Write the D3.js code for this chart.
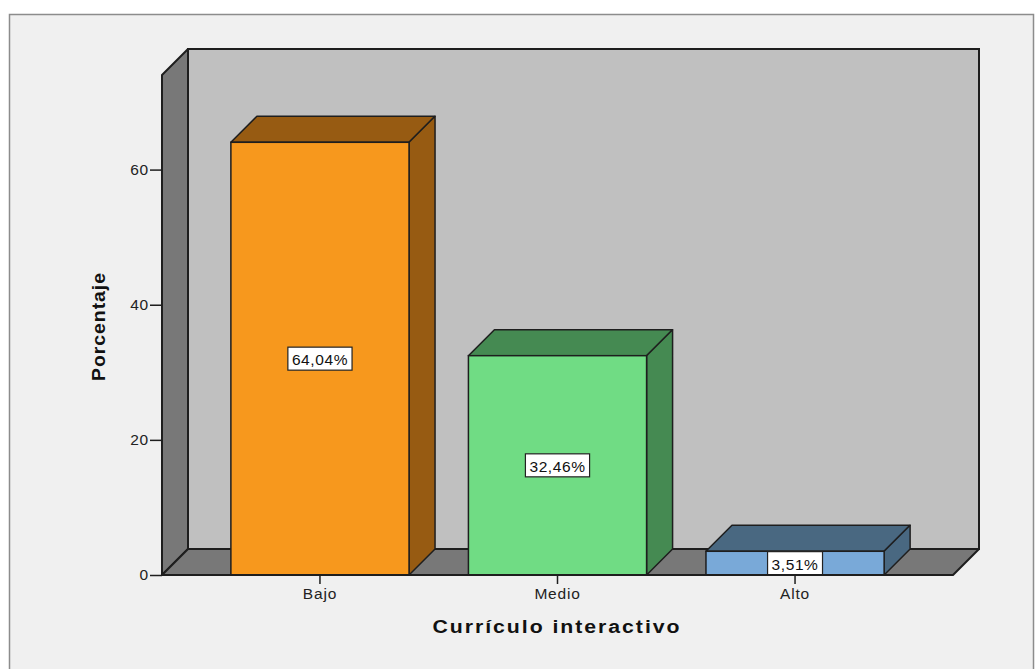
<!DOCTYPE html>
<html>
<head>
<meta charset="utf-8">
<script src="https://cdn.jsdelivr.net/npm/d3@7"></script>
<style>
  html, body { margin: 0; padding: 0; background: #ffffff; }
  svg { display: block; font-family: "Liberation Sans", Arial, sans-serif; }
</style>
</head>
<body>
<svg id="chart" width="1035" height="669"></svg>
<script>
// Frequency of "Currículo interactivo" levels (percent)
const categories = ["Bajo", "Medio", "Alto"];
const percentages = [64.04, 32.46, 3.51];
const valueLabels = ["64,04%", "32,46%", "3,51%"];
const yTicks = [0, 20, 40, 60];
const frontColors = ["#f7981d", "#70dc84", "#79a9d8"];
const sideColors = ["#975b12", "#458a52", "#496881"];

const svg = d3.select("#chart");
const fontFamily = "'Liberation Sans', Arial, sans-serif";

// Panel background and frame
svg.append("rect")
  .attr("x", 9.5).attr("y", 14.5)
  .attr("width", 1024).attr("height", 680)
  .attr("fill", "#f0f0f0")
  .attr("stroke", "#8c8c8c").attr("stroke-width", 1.5);

// Plot geometry (front plane + depth offset for the 3D box)
const x0 = 162, x1 = 953, yBase = 575, yTop = 75;
const depth = 26;

const x = d3.scaleBand()
  .domain(categories)
  .range([x0, x1])
  .paddingInner(0.25)
  .paddingOuter(0.29);

const y = d3.scaleLinear()
  .domain([0, 74])
  .range([yBase, yTop]);

const stroke = "#1e1e1e";
const line = d3.line();

// Back wall
svg.append("path")
  .attr("d", line([[x0 + depth, yTop - depth], [x1 + depth, yTop - depth],
                   [x1 + depth, yBase - depth], [x0 + depth, yBase - depth]]) + "Z")
  .attr("fill", "#c0c0c0").attr("stroke", stroke).attr("stroke-width", 2);

// Left wall
svg.append("path")
  .attr("d", line([[x0, yTop], [x0 + depth, yTop - depth],
                   [x0 + depth, yBase - depth], [x0, yBase]]) + "Z")
  .attr("fill", "#787878").attr("stroke", stroke).attr("stroke-width", 2)
  .attr("stroke-linejoin", "round");

// Floor
svg.append("path")
  .attr("d", line([[x0, yBase], [x0 + depth, yBase - depth],
                   [x1 + depth, yBase - depth], [x1, yBase]]) + "Z")
  .attr("fill", "#787878").attr("stroke", stroke).attr("stroke-width", 2)
  .attr("stroke-linejoin", "round");

// Bars as 3D boxes
const bars = svg.append("g").selectAll("g.bar")
  .data(categories.map((c, i) => ({ c, v: percentages[i], label: valueLabels[i], i })))
  .join("g").attr("class", "bar");

bars.each(function(d) {
  const g = d3.select(this);
  const bx0 = x(d.c), bx1 = x(d.c) + x.bandwidth();
  const by = y(d.v);
  // top face
  g.append("path")
    .attr("d", line([[bx0, by], [bx0 + depth, by - depth], [bx1 + depth, by - depth], [bx1, by]]) + "Z")
    .attr("fill", sideColors[d.i]).attr("stroke", stroke).attr("stroke-width", 1.5)
    .attr("stroke-linejoin", "round");
  // right side face
  g.append("path")
    .attr("d", line([[bx1, by], [bx1 + depth, by - depth], [bx1 + depth, yBase - depth], [bx1, yBase]]) + "Z")
    .attr("fill", sideColors[d.i]).attr("stroke", stroke).attr("stroke-width", 1.5)
    .attr("stroke-linejoin", "round");
  // front face
  g.append("rect")
    .attr("x", bx0).attr("y", by)
    .attr("width", bx1 - bx0).attr("height", yBase - by)
    .attr("fill", frontColors[d.i]).attr("stroke", stroke).attr("stroke-width", 1.5);
});

// Base line along the front edge of the floor
svg.append("line")
  .attr("x1", x0).attr("x2", x1).attr("y1", yBase).attr("y2", yBase)
  .attr("stroke", stroke).attr("stroke-width", 2);

// Value labels in boxes
bars.each(function(d) {
  const g = d3.select(this);
  const cx = x(d.c) + x.bandwidth() / 2;
  const cy = (y(d.v) + yBase) / 2;
  const t = g.append("text")
    .attr("x", cx).attr("y", cy + 1)
    .attr("text-anchor", "middle").attr("dominant-baseline", "central")
    .attr("font-size", 15.5).attr("letter-spacing", 0.6).attr("fill", "#111")
    .text(d.label);
  const bb = t.node().getBBox();
  g.insert("rect", "text")
    .attr("x", cx - bb.width / 2 - 4).attr("y", cy - 11.5)
    .attr("width", bb.width + 8).attr("height", 23)
    .attr("fill", "#ffffff").attr("stroke", "#222").attr("stroke-width", 1.2);
});

// Y axis
const yAxis = svg.append("g")
  .attr("transform", `translate(${x0},0)`)
  .call(d3.axisLeft(y).tickValues(yTicks).tickSize(12).tickPadding(1).tickFormat(d3.format("d")));
yAxis.select(".domain").remove();
yAxis.selectAll(".tick line").attr("stroke", stroke).attr("stroke-width", 1.5);
yAxis.selectAll(".tick text")
  .attr("font-size", 15.5).attr("letter-spacing", 0.8).attr("fill", "#222")
  .attr("font-family", fontFamily);

// X axis
const xAxis = svg.append("g")
  .attr("transform", `translate(0,${yBase})`)
  .call(d3.axisBottom(x).tickSize(9).tickPadding(4));
xAxis.select(".domain").remove();
xAxis.selectAll(".tick line").attr("stroke", stroke).attr("stroke-width", 1.5);
xAxis.selectAll(".tick text")
  .attr("font-size", 15.5).attr("letter-spacing", 0.8).attr("fill", "#222")
  .attr("font-family", fontFamily);

// Axis titles
svg.append("text")
  .attr("transform", "translate(557,633) scale(1.15,1)")
  .attr("text-anchor", "middle")
  .attr("font-size", 18.5).attr("font-weight", "bold").attr("fill", "#111")
  .attr("letter-spacing", 1.7)
  .text("Currículo interactivo");

svg.append("text")
  .attr("transform", "translate(105,326.5) rotate(-90) scale(1.08,1)")
  .attr("text-anchor", "middle")
  .attr("font-size", 18).attr("font-weight", "bold").attr("fill", "#111")
  .attr("letter-spacing", 0.9)
  .text("Porcentaje");
</script>
</body>
</html>
